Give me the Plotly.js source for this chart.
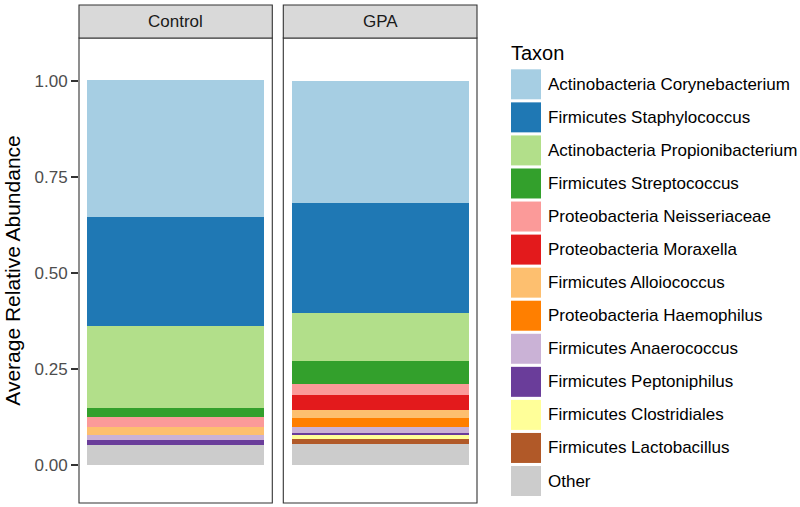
<!DOCTYPE html>
<html>
<head>
<meta charset="utf-8">
<script src="https://cdn.plot.ly/plotly-3.0.1.min.js"></script>
<style>html,body{margin:0;padding:0;background:#fff;}#chart{width:800px;height:507px;}</style>
</head>
<body>
<div id="chart"></div>
<script>
// Taxa in legend order (top of stack first)
const taxa = [
  "Actinobacteria Corynebacterium",
  "Firmicutes Staphylococcus",
  "Actinobacteria Propionibacterium",
  "Firmicutes Streptococcus",
  "Proteobacteria Neisseriaceae",
  "Proteobacteria Moraxella",
  "Firmicutes Alloiococcus",
  "Proteobacteria Haemophilus",
  "Firmicutes Anaerococcus",
  "Firmicutes Peptoniphilus",
  "Firmicutes Clostridiales",
  "Firmicutes Lactobacillus",
  "Other"
];
const colors = ["#A6CEE3","#1F78B4","#B2DF8A","#33A02C","#FB9A99","#E31A1C",
                "#FDBF6F","#FF7F00","#CAB2D6","#6A3D9A","#FFFF99","#B15928","#CCCCCC"];
const groups = ["Control", "GPA"];
const controlValues = [0.355, 0.284, 0.214, 0.025, 0.025, 0.000, 0.022, 0.000, 0.012, 0.013, 0.000, 0.000, 0.052];
const gpaValues     = [0.318, 0.286, 0.125, 0.061, 0.027, 0.039, 0.022, 0.023, 0.015, 0.005, 0.011, 0.012, 0.056];
const yTicks = [0, 0.25, 0.5, 0.75, 1.0];
const yTickLabels = ["0.00", "0.25", "0.50", "0.75", "1.00"];
const legendTitle = "Taxon";
const yTitle = "Average Relative Abundance";

const W = 800, H = 507;
const M = {l: 79, r: 323, t: 5, b: 4};
const PW = W - M.l - M.r, PH = H - M.t - M.b;
const px2x = px => (px - M.l) / PW;
const py2y = py => (H - M.b - py) / PH;

const panelTop = py2y(38);
const dom1 = [0, px2x(272.3)];
const dom2 = [px2x(283.3), 1];

const traces = [];
const valuesByGroup = [controlValues, gpaValues];
// plotly stacks first trace at bottom -> add in reverse order
for (let g = 0; g < groups.length; g++) {
  for (let i = taxa.length - 1; i >= 0; i--) {
    traces.push({
      type: "bar",
      x: [groups[g]],
      y: [valuesByGroup[g][i]],
      name: taxa[i],
      xaxis: g === 0 ? "x" : "x2",
      yaxis: g === 0 ? "y" : "y2",
      width: 0.914,
      marker: {color: colors[i], line: {width: 0}},
      showlegend: false,
      hoverinfo: "name+y"
    });
  }
}

const font = "Liberation Sans, Arial, Helvetica, sans-serif";
const shapes = [];
const annotations = [];
// panel borders & strips
[["x","y"],["x2","y2"]].forEach((ax, k) => {
  shapes.push({type:"rect", xref: ax[0]+" domain", yref: ax[1]+" domain", x0:0, x1:1, y0:0, y1:1,
    line:{color:"#333333", width:1.1}, fillcolor:"rgba(0,0,0,0)", layer:"above"});
  shapes.push({type:"rect", xref: ax[0]+" domain", yref: "paper", x0:0, x1:1, y0:panelTop, y1:1,
    line:{color:"#333333", width:1.1}, fillcolor:"#D9D9D9"});
  annotations.push({xref: ax[0]+" domain", yref:"paper", x:0.5, y:(panelTop+1)/2,
    text: groups[k], showarrow:false, xanchor:"center", yanchor:"middle",
    font:{family:font, size:17, color:"#1A1A1A"}});
});

// legend (built from taxa/colors arrays)
annotations.push({xref:"paper", yref:"paper", x:px2x(509), y:py2y(53), text:legendTitle,
  showarrow:false, xanchor:"left", yanchor:"middle", font:{family:font, size:20, color:"#000"}});
const key0 = 69.3, keyStep = 33.06, keySize = 30;
taxa.forEach((t, i) => {
  const top = key0 + i*keyStep;
  shapes.push({type:"rect", xref:"paper", yref:"paper", x0:px2x(511), x1:px2x(511+keySize),
    y0:py2y(top+keySize), y1:py2y(top), fillcolor:colors[i], line:{width:0}});
  annotations.push({xref:"paper", yref:"paper", x:px2x(546), y:py2y(top+keySize/2), text:t,
    showarrow:false, xanchor:"left", yanchor:"middle", font:{family:font, size:17, color:"#000"}});
});

const yRange = [-(503-465)/384, (465-38)/384];
const layout = {
  width: W, height: H,
  margin: M,
  paper_bgcolor: "#fff", plot_bgcolor: "#fff",
  barmode: "stack",
  showlegend: false,
  font: {family: font},
  xaxis: {domain: dom1, anchor:"y", range:[-0.5,0.5], showticklabels:false, ticks:"", showgrid:false, zeroline:false, showline:false},
  xaxis2: {domain: dom2, anchor:"y2", range:[-0.5,0.5], showticklabels:false, ticks:"", showgrid:false, zeroline:false, showline:false},
  yaxis: {domain:[0, panelTop], anchor:"x", range:yRange, tickvals:yTicks, ticktext:yTickLabels,
    ticks:"outside", ticklen:7, tickwidth:1.1, tickcolor:"#333333", showgrid:false, zeroline:false, showline:false,
    tickfont:{family:font, size:17, color:"#4D4D4D"},
    title:{text:yTitle, font:{family:font, size:21, color:"#000"}, standoff:8}},
  yaxis2: {domain:[0, panelTop], anchor:"x2", range:yRange, showticklabels:false, ticks:"", showgrid:false, zeroline:false, showline:false},
  shapes: shapes,
  annotations: annotations
};

Plotly.newPlot("chart", traces, layout, {displayModeBar:false, staticPlot:true});
</script>
</body>
</html>
